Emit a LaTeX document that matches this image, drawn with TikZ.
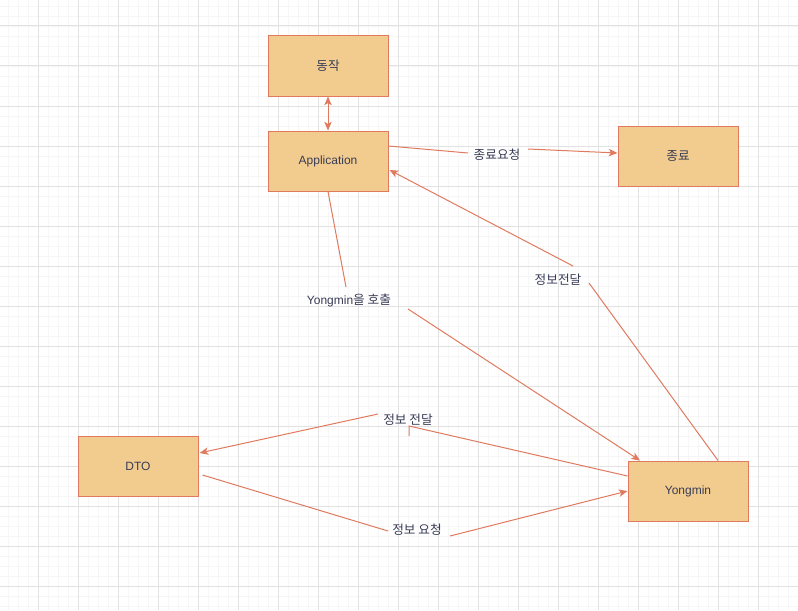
\documentclass[tikz,border=0pt]{standalone}
\usepackage{fontspec}
\setmainfont{Noto Sans CJK KR}
\newfontfamily\lat{Liberation Sans}
\usetikzlibrary{calc,arrows.meta}
\definecolor{boxfill}{HTML}{F2CC8F}
\definecolor{boxline}{HTML}{E07A5F}
\definecolor{txt}{HTML}{393C56}
\definecolor{gridmajor}{HTML}{E2E2E2}
\definecolor{gridminor}{HTML}{F6F6F6}
\tikzset{
  box/.style={draw=boxline, fill=boxfill, line width=0.75pt, minimum width=90pt, minimum height=45pt, inner sep=0pt, text=txt, font=\fontsize{9}{11}\selectfont},
  lbl/.style={text=txt, font=\fontsize{9.5}{11}\selectfont, inner sep=0pt},
  conn/.style={draw=boxline, line width=0.75pt},
  tip/.style={-{Stealth[length=6.5pt,width=5.5pt,inset=1.6pt]}},
  biTip/.style={{Stealth[length=6.5pt,width=5.5pt,inset=1.6pt]}-{Stealth[length=6.5pt,width=5.5pt,inset=1.6pt]}}
}
\begin{document}
\begin{tikzpicture}[x=0.75pt,y=-0.75pt]
\useasboundingbox (0,0) rectangle (798,610);
\fill[white] (0,0) rectangle (798,610);
% grid
\foreach \i in {8,18,...,798} \draw[gridminor, line width=0.6pt] (\i,0) -- (\i,610);
\foreach \j in {6,16,...,610} \draw[gridminor, line width=0.6pt] (0,\j) -- (798,\j);
\foreach \i in {38,78,...,798} \draw[gridmajor, line width=0.75pt] (\i,0) -- (\i,610);
\foreach \j in {26,66,...,610} \draw[gridmajor, line width=0.75pt] (0,\j) -- (798,\j);

% boxes
\node[box] (dongjak) at (328,66) {\fontsize{9.5}{11}\selectfont 동작};
\node[box] (app) at (328,161) {\lat Application};
\node[box] (jongryo) at (678,156) {\fontsize{9.5}{11}\selectfont 종료};
\node[box] (dto) at (138,466) {\lat DTO};
\node[box] (yongmin) at (688,491) {\lat Yongmin};

% labels
\node[lbl] (l1) at (497,155) {종료요청};
\node[lbl] (l2) at (558,280) {정보전달};
\node[lbl] (l3) at (349,300) {{\lat\fontsize{9}{11}\selectfont Yongmin}을 호출};
\node[lbl] (l4) at (408,420) {정보 전달};
\node[lbl] (l5) at (417,530) {정보 요청};

% gap ends
\coordinate (a1) at (468,153);
\coordinate (a2) at (528,149);
\coordinate (b1) at (589,283);
\coordinate (b2) at (573,266);
\coordinate (c1) at (346,287);
\coordinate (c2) at (408,309);
\coordinate (d1) at (409,426);
\coordinate (d0) at (409,436);
\coordinate (d2) at (378,414);
\coordinate (e1) at (388,531);
\coordinate (e2) at (450,536);

% connectors
\draw[conn,biTip] (dongjak.south) -- (app.north);
\draw[conn] ($(app.east)+(0,-15)$) -- (a1);
\draw[conn,tip] (a2) -- ($(jongryo.west)+(0,-3)$);
\draw[conn] ($(yongmin.north)+(30,0)$) -- (b1);
\draw[conn,tip] (b2) -- ($(app.east)+(1,9)$);
\draw[conn] (app.south) -- (c1);
\draw[conn,tip] (c2) -- ($(yongmin.north)+(-48,0)$);
\draw[conn] ($(yongmin.west)+(0,-15)$) -- (d1) -- (d0);
\draw[conn,tip] (d2) -- ($(dto.east)+(1,-13)$);
\draw[conn] ($(dto.east)+(4,9)$) -- (e1);
\draw[conn,tip] (e2) -- (yongmin.west);
\end{tikzpicture}
\end{document}
